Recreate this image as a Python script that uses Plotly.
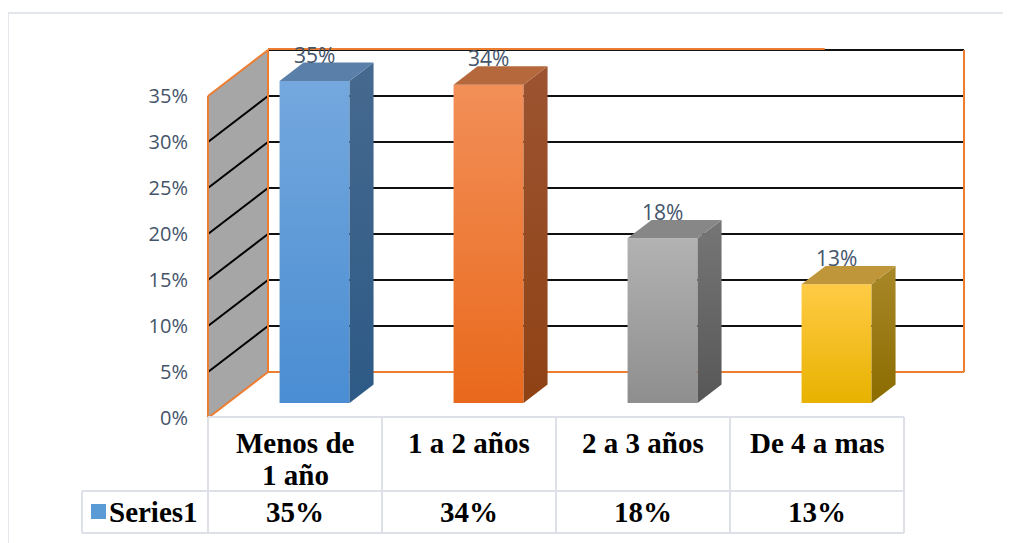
import plotly.graph_objects as go

# ---------------- data ----------------
categories = ["Menos de<br>1 año", "1 a 2 años", "2 a 3 años", "De 4 a mas"]
values = [35.0, 34.6, 17.9, 12.9]          # bar heights (%)
value_labels = ["35%", "34%", "18%", "13%"]
series_name = "Series1"
y_ticks = [0, 5, 10, 15, 20, 25, 30, 35]
y_ticktext = ["0%", "5%", "10%", "15%", "20%", "25%", "30%", "35%"]

# face colours per bar: (front bottom, front top, side bottom, side top, top)
bar_colors = [
    ("#4a8dd2", "#74a8de", "#2d5a86", "#46698f", "#5a80a9"),
    ("#e9691c", "#f28f58", "#8f4214", "#9c5431", "#b4683c"),
    ("#8e8e8e", "#b2b2b2", "#575757", "#767676", "#878787"),
    ("#e8b200", "#ffcb45", "#8a6c00", "#a88828", "#bf973a"),
]

# ---------------- geometry (projection constants, window pixels) ----------------
WIN_W, WIN_H = 1011, 543
OFF = 8                                # page body margin
FW, FH = WIN_W - OFF, WIN_H - OFF
PX_PER_CAT = 174.0
PX_PER_PCT = 9.2
X0_PX, Y0_PX = 295.0, 418.0           # front-plane pixel of category 0 / value 0
DEPTH_DX = 60.0 / PX_PER_CAT          # full floor depth, in category units
DEPTH_DV = 46.0 / PX_PER_PCT          # full floor depth, in percent units
BAR_Z0, BAR_Z1 = 0.326, 0.726
BAR_HALF = 35.0 / PX_PER_CAT
YMAX = 35

xr = [(OFF - X0_PX) / PX_PER_CAT, (WIN_W - X0_PX) / PX_PER_CAT]
yr = [(Y0_PX - WIN_H) / PX_PER_PCT, (Y0_PX - OFF) / PX_PER_PCT]


def P(k, v, z):
    return k + z * DEPTH_DX, v + z * DEPTH_DV


def poly(points):
    xs, ys = zip(*[P(*p) for p in points])
    return list(xs) + [xs[0]], list(ys) + [ys[0]]


def py2paper(py):
    return 1 - (py - OFF) / FH


def px2paper(px):
    return (px - OFF) / FW


fig = go.Figure()
shapes = []
ORANGE = "#ed7d31"

# side wall (gray)
kl = -0.5
xs, ys = poly([(kl, 0, 0), (kl, 0, 1), (kl, YMAX, 1), (kl, YMAX, 0)])
path = "M " + " L ".join(f"{a},{b}" for a, b in zip(xs, ys)) + " Z"
shapes.append(dict(type="path", path=path, xref="x", yref="y",
                   fillcolor="#a6a6a6", line=dict(width=0), layer="below"))
# side wall grid lines
for v in y_ticks[1:-1]:
    (xa, ya), (xb, yb) = P(kl, v, 0), P(kl, v, 1)
    shapes.append(dict(type="line", x0=xa, y0=ya, x1=xb, y1=yb, xref="x", yref="y",
                       line=dict(color="black", width=2), layer="below"))
# back wall grid lines
kr = len(categories) - 0.5
for v in y_ticks[1:]:
    (xa, ya), (xb, yb) = P(kl, v, 1), P(kr, v, 1)
    shapes.append(dict(type="line", x0=xa, y0=ya, x1=xb, y1=yb, xref="x", yref="y",
                       line=dict(color="#111111", width=2), layer="below"))
# orange wall edges
edges = [
    ((kl, 0, 0), (kl, YMAX, 0)),
    ((kl, YMAX, 0), (kl, YMAX, 1)),
    ((kl, 0, 0), (kl, 0, 1)),
    ((kl, 0, 1), (kl, YMAX, 1)),
    ((kl, 0, 1), (kr, 0, 1)),
    ((kr, 0, 1), (kr, YMAX, 1)),
    ((kl, YMAX + 0.1, 1), (kr - 0.8, YMAX + 0.1, 1)),
]
for a, b in edges:
    (xa, ya), (xb, yb) = P(*a), P(*b)
    shapes.append(dict(type="line", x0=xa, y0=ya, x1=xb, y1=yb, xref="x", yref="y",
                       line=dict(color=ORANGE, width=2), layer="below"))

# bars
annotations = []
for i, (val, lab, cols) in enumerate(zip(values, value_labels, bar_colors)):
    fb, ft, sb, st, tc = cols
    kL, kR = i - BAR_HALF, i + BAR_HALF
    faces = [
        ([(kL, 0, BAR_Z0), (kR, 0, BAR_Z0), (kR, val, BAR_Z0), (kL, val, BAR_Z0)], fb, ft),
        ([(kR, 0, BAR_Z0), (kR, 0, BAR_Z1), (kR, val, BAR_Z1), (kR, val, BAR_Z0)], sb, st),
        ([(kL, val, BAR_Z0), (kR, val, BAR_Z0), (kR, val, BAR_Z1), (kL, val, BAR_Z1)], tc, tc),
    ]
    for pts, c0, c1 in faces:
        fx, fy = poly(pts)
        fig.add_trace(go.Scatter(
            x=fx, y=fy, mode="lines", fill="toself", line=dict(width=0),
            fillgradient=dict(type="vertical", colorscale=[[0, c0], [1, c1]]),
            hoverinfo="skip", showlegend=False))
    lx, ly = P(i, val, BAR_Z1)
    annotations.append(dict(x=P(i, val, BAR_Z0)[0], y=ly, xref="x", yref="y",
                            text=lab, showarrow=False, yanchor="middle", yshift=8,
                            font=dict(family="Open Sans", size=21, color="#44546a")))

# data table
GRID = "#dde1e7"
TOP, MID, BOT = 417, 491, 533
LEG_L = 82
for py, x_left in [(TOP, kl), (MID, None), (BOT, None)]:
    if x_left is None:
        shapes.append(dict(type="line", xref="paper", yref="paper",
                           x0=px2paper(LEG_L), x1=px2paper(X0_PX + PX_PER_CAT * kr),
                           y0=py2paper(py), y1=py2paper(py), line=dict(color=GRID, width=2)))
    else:
        shapes.append(dict(type="line", xref="x", yref="paper", x0=kl, x1=kr,
                           y0=py2paper(py), y1=py2paper(py), line=dict(color=GRID, width=2)))
for j in range(len(categories) + 1):
    shapes.append(dict(type="line", xref="x", yref="paper", x0=j - 0.5, x1=j - 0.5,
                       y0=py2paper(TOP), y1=py2paper(BOT), line=dict(color=GRID, width=2)))
shapes.append(dict(type="line", xref="paper", yref="paper", x0=px2paper(LEG_L), x1=px2paper(LEG_L),
                   y0=py2paper(MID), y1=py2paper(BOT), line=dict(color=GRID, width=2)))
# outer chart border
shapes.append(dict(type="line", xref="paper", yref="paper", x0=px2paper(7), x1=1,
                   y0=py2paper(13), y1=py2paper(13), line=dict(color="#e3e6ea", width=2)))
shapes.append(dict(type="line", xref="paper", yref="paper", x0=px2paper(8), x1=px2paper(8),
                   y0=py2paper(13), y1=0, line=dict(color="#e3e6ea", width=2)))
# legend key
shapes.append(dict(type="rect", xref="paper", yref="paper", x0=px2paper(91), x1=px2paper(106),
                   y0=py2paper(519), y1=py2paper(504), fillcolor="#5b9bd5", line=dict(width=0)))

SERIF = dict(family="Liberation Serif", size=29, color="black")
for i, cat in enumerate(categories):
    for li, line in enumerate(cat.split("<br>")):
        annotations.append(dict(x=i, y=py2paper(443 + 32 * li), xref="x", yref="paper",
                                text=f"<b>{line}</b>", showarrow=False, yanchor="middle",
                                font=SERIF))
    annotations.append(dict(x=i, y=py2paper(512), xref="x", yref="paper",
                            text=f"<b>{value_labels[i]}</b>", showarrow=False,
                            yanchor="middle", font=SERIF))
annotations.append(dict(x=px2paper(107), y=py2paper(512), xref="paper", yref="paper",
                        text=f"<b>{series_name}</b>", showarrow=False, xanchor="left",
                        yanchor="middle", font=SERIF))

fig.update_layout(
    width=FW, height=FH, margin=dict(l=0, r=0, t=0, b=0),
    paper_bgcolor="white", plot_bgcolor="white", showlegend=False,
    xaxis=dict(range=xr, visible=False, fixedrange=True),
    yaxis=dict(range=yr, anchor="free", position=px2paper(X0_PX - PX_PER_CAT * 0.5),
               tickvals=y_ticks, ticktext=y_ticktext, showgrid=False, zeroline=False,
               showline=False, ticks="", ticklabelstandoff=20,
               tickfont=dict(family="Open Sans", size=20, color="#44546a")),
    shapes=shapes, annotations=annotations,
)
fig.write_html("out.html")
